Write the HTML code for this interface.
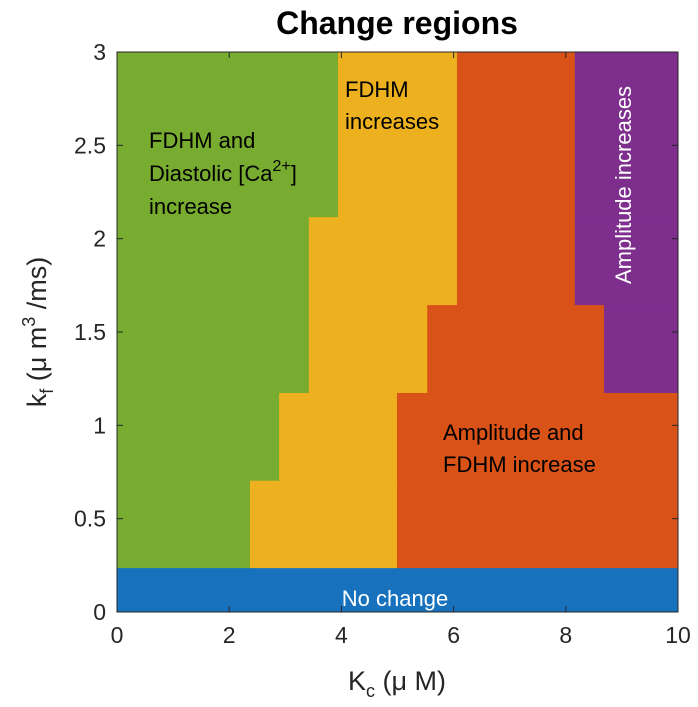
<!DOCTYPE html>
<html><head><meta charset="utf-8"><style>
html,body{margin:0;padding:0;background:#fff;overflow:hidden;width:698px;height:707px;}
svg{display:block;}
svg text{font-family:"Liberation Sans",sans-serif;}
</style></head><body>
<svg id="chart" width="698" height="707" xmlns="http://www.w3.org/2000/svg">
<g id="regions"></g>
<g id="axes"></g>
<text x="397" y="34" font-size="32" font-weight="bold" text-anchor="middle" fill="#000">Change regions</text>
<text x="397" y="690" font-size="27" text-anchor="middle" fill="#262626">K<tspan font-size="18" dy="7">c</tspan><tspan dy="-7"> (μ M)</tspan></text>
<text transform="translate(46,332) rotate(-90)" font-size="27" text-anchor="middle" fill="#262626">k<tspan font-size="18" dy="7">f</tspan><tspan dy="-7"> (μ m</tspan><tspan font-size="18" dy="-11">3</tspan><tspan dy="11"> /ms)</tspan></text>
<text font-size="22" fill="#000"><tspan x="149" y="148">FDHM and</tspan><tspan x="149" y="181">Diastolic [Ca</tspan><tspan font-size="16" dy="-10">2+</tspan><tspan dy="10">]</tspan><tspan x="149" y="214">increase</tspan></text>
<text font-size="22" fill="#000"><tspan x="345" y="97">FDHM</tspan><tspan x="345" y="129">increases</tspan></text>
<text font-size="22" fill="#000"><tspan x="443" y="440">Amplitude and</tspan><tspan x="443" y="472">FDHM increase</tspan></text>
<text transform="translate(631,185) rotate(-90)" font-size="22" fill="#fff" text-anchor="middle">Amplitude increases</text>
<text x="395" y="606" font-size="22" fill="#fff" text-anchor="middle">No change</text>
</svg>
<script>
const bandEdges = [0.235, 0.706, 1.176, 1.647, 2.118, 3];
const greenEnd = [2.37, 2.89, 3.42, 3.42, 3.94];
const yellowEnd = [4.99, 4.99, 5.53, 6.06, 6.06];
const redEnd = [10, 10, 8.68, 8.16, 8.16];
const noChangeTop = 0.235;
const xTicks = [0, 2, 4, 6, 8, 10];
const yTicks = [0, 0.5, 1, 1.5, 2, 2.5, 3];
const yTickLabels = ["0", "0.5", "1", "1.5", "2", "2.5", "3"];

const X0 = 117, X1 = 678, Y0 = 612, Y1 = 52;
const sx = v => X0 + v / 10 * (X1 - X0);
const sy = v => Y0 - v / 3 * (Y0 - Y1);
const NS = "http://www.w3.org/2000/svg";
function mk(tag, attrs, parent) {
  const e = document.createElementNS(NS, tag);
  for (const k in attrs) e.setAttribute(k, attrs[k]);
  parent.appendChild(e); return e;
}
const reg = document.getElementById("regions");
const colors = ["#77AC30", "#EDB120", "#D95319", "#7E2F8E"];
const names = ["fdhm-diastolic-region", "fdhm-region", "amplitude-fdhm-region", "amplitude-region"];
for (let i = 0; i < 5; i++) {
  const bounds = [0, greenEnd[i], yellowEnd[i], redEnd[i], 10];
  for (let j = 0; j < 4; j++) {
    if (bounds[j + 1] <= bounds[j]) continue;
    const r = mk("rect", {x: sx(bounds[j]), y: sy(bandEdges[i + 1]), width: sx(bounds[j + 1]) - sx(bounds[j]) + 0.5, height: sy(bandEdges[i]) - sy(bandEdges[i + 1]) + 0.5, fill: colors[j]}, reg);
    
    
  }
}
const nc = mk("rect", {x: sx(0), y: sy(noChangeTop), width: sx(10) - sx(0), height: sy(0) - sy(noChangeTop), fill: "#1771BD"}, reg);



const ax = document.getElementById("axes");
mk("rect", {x: X0, y: Y1, width: X1 - X0, height: Y0 - Y1, fill: "none", stroke: "#262626", "stroke-width": 1}, ax);
xTicks.forEach(t => {
  mk("line", {x1: sx(t), x2: sx(t), y1: Y0, y2: Y0 - 6, stroke: "#262626"}, ax);
  mk("line", {x1: sx(t), x2: sx(t), y1: Y1, y2: Y1 + 6, stroke: "#262626"}, ax);
  const tx = mk("text", {x: sx(t), y: 643, "font-size": 23, "text-anchor": "middle", fill: "#262626"}, ax);
  tx.textContent = t;
  
  
});
yTicks.forEach((t, i) => {
  mk("line", {x1: X0, x2: X0 + 6, y1: sy(t), y2: sy(t), stroke: "#262626"}, ax);
  mk("line", {x1: X1, x2: X1 - 6, y1: sy(t), y2: sy(t), stroke: "#262626"}, ax);
  const tx = mk("text", {x: 106, y: sy(t) + 8, "font-size": 23, "text-anchor": "end", fill: "#262626"}, ax);
  tx.textContent = yTickLabels[i];
  
  
});
</script>
</body></html>
